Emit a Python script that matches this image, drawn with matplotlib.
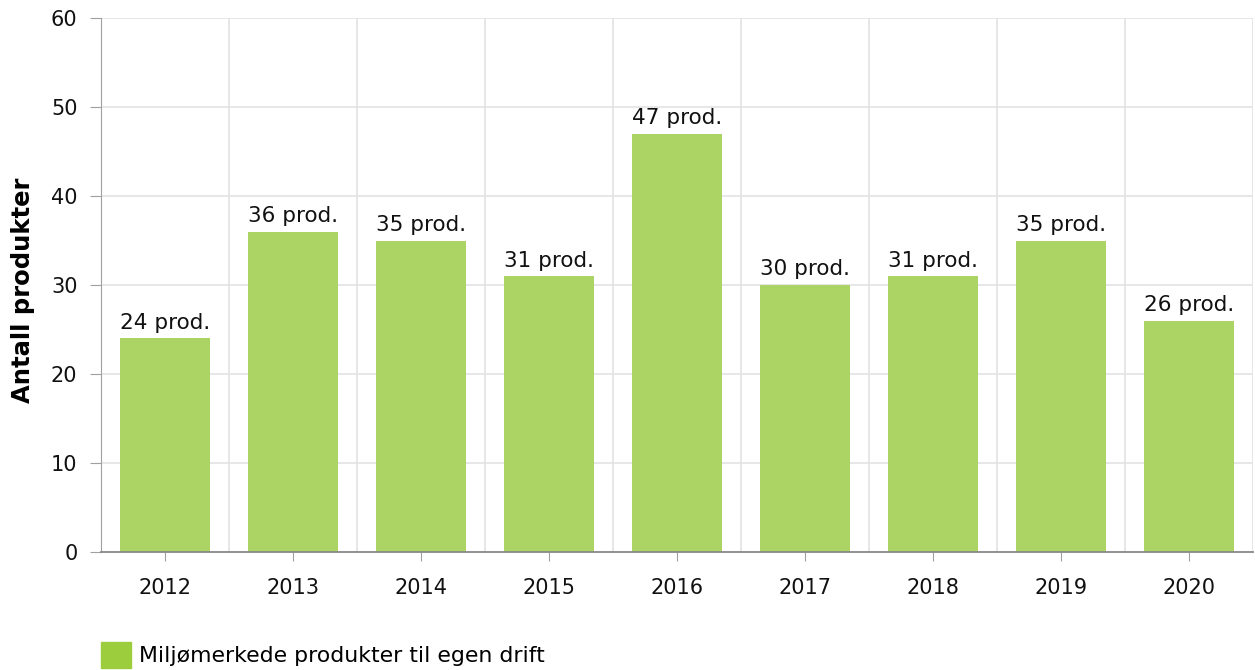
import matplotlib
matplotlib.use('Agg')
import matplotlib.pyplot as plt
from matplotlib.patches import Patch
import numpy as np

# Data
aar = ['2012', '2013', '2014', '2015', '2016', '2017', '2018', '2019', '2020']
antall = [24, 36, 35, 31, 47, 30, 31, 35, 26]
serie_navn = 'Miljømerkede produkter til egen drift'
y_ticks = [0, 10, 20, 30, 40, 50, 60]

farge_bar = '#acd464'
farge_legend = '#9ccd3c'
plt.rcParams['font.family'] = ['DejaVu Sans']

fig = plt.figure(figsize=(12.55, 6.7), dpi=100)
ax = fig.add_axes([101 / 1255, 1 - 552 / 670, (1253 - 101) / 1255, (552 - 18) / 670])

x = np.arange(len(aar))
bars = ax.bar(x, antall, width=0.70, color=farge_bar, zorder=2)
ax.bar_label(bars, labels=[f'{v} prod.' for v in antall], padding=4, fontsize=15.5, color='#111111')

ax.set_xlim(-0.5, len(aar) - 0.5)
ax.set_ylim(0, 60)
ax.set_yticks(y_ticks)
ax.set_xticks(x)
ax.set_xticklabels(aar)

# gridlines on category boundaries
for b in np.arange(-0.5, len(aar) + 0.5):
    ax.axvline(b, color='#e3e3e3', linewidth=1.2, zorder=0)
for yv in y_ticks[1:]:
    ax.axhline(yv, color='#e3e3e3', linewidth=1.2, zorder=0)

for s in ['top', 'right']:
    ax.spines[s].set_visible(False)
ax.spines['left'].set_color('#a0a0a0')
ax.spines['bottom'].set_color('#888888')
ax.spines['bottom'].set_linewidth(1.3)
ax.spines['bottom'].set_zorder(3)

ax.tick_params(axis='y', length=8, color='#a0a0a0', labelsize=15, pad=9, labelcolor='#111111')
ax.tick_params(axis='x', length=6.5, color='#a0a0a0', labelsize=15, pad=12, labelcolor='#111111')

ax.set_ylabel('Antall produkter', fontsize=17.5, fontweight='bold')
ax.yaxis.set_label_coords(-66 / 1152, 0.49)

fig.legend(handles=[Patch(color=farge_legend)], labels=[serie_navn], loc='center left',
           bbox_to_anchor=(101 / 1255, 1 - 655 / 670), frameon=False, fontsize=15.8,
           handlelength=1.35, handleheight=1.5, handletextpad=0.4, borderaxespad=0,
           borderpad=0)

fig.savefig('out.png', dpi=100)
